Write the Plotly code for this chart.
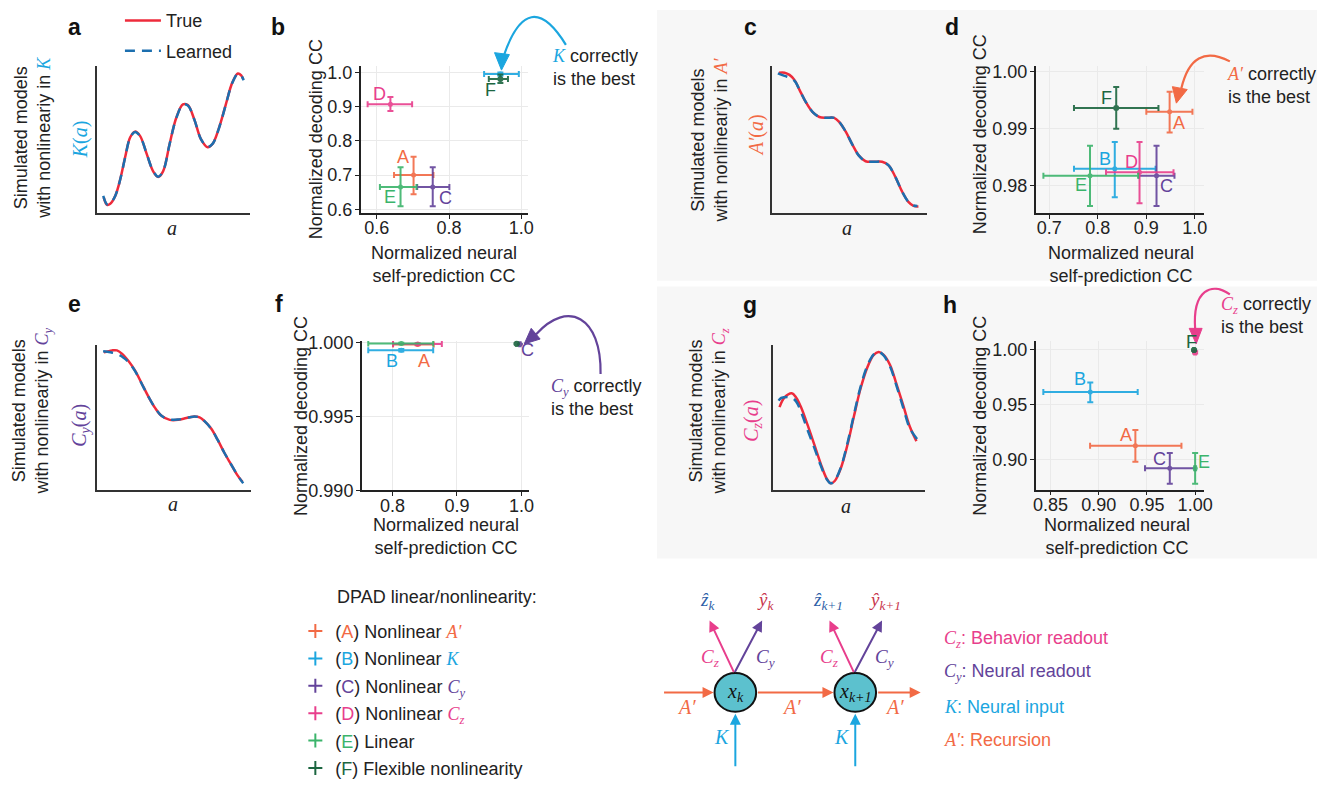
import plotly.graph_objects as go

W, H = 1334, 787
SANS = "Liberation Sans, Arial, Helvetica, sans-serif"
SERIF = "Liberation Serif, Times New Roman, serif"
INK = "#222222"

# ---------------- colours ----------------
COL = {"A": "#F26A45", "B": "#1BA6DF", "C": "#63439A",
       "D": "#E83E8C", "E": "#3BB46B", "F": "#1C6640"}
RED_TRUE = "#EE2B3B"
BLUE_LEARNED = "#1C6FAF"
letters = ["A", "B", "C", "D", "E", "F"]

# ---------------- curve panels (normalised a, f(a)) ----------------
a_true_x = [0.043, 0.065, 0.086, 0.119, 0.151, 0.184, 0.216, 0.248, 0.281, 0.324, 0.367, 0.400, 0.432, 0.475,
            0.518, 0.562, 0.594, 0.637, 0.680, 0.724, 0.756, 0.799, 0.842, 0.886, 0.922, 0.944, 0.957]
a_true_y = [0.106, 0.055, 0.062, 0.117, 0.227, 0.382, 0.514, 0.554, 0.525, 0.404, 0.283, 0.245, 0.283, 0.470,
            0.647, 0.740, 0.735, 0.636, 0.503, 0.448, 0.470, 0.581, 0.735, 0.890, 0.951, 0.938, 0.912]
a_learned_x = [0.040, 0.065, 0.086, 0.119, 0.151, 0.184, 0.216, 0.248, 0.281, 0.324, 0.367, 0.400, 0.432, 0.475,
               0.518, 0.562, 0.594, 0.637, 0.680, 0.724, 0.756, 0.799, 0.842, 0.886, 0.922, 0.944, 0.960]
a_learned_y = [0.115, 0.058, 0.064, 0.117, 0.227, 0.380, 0.512, 0.552, 0.524, 0.404, 0.285, 0.247, 0.284, 0.470,
               0.645, 0.738, 0.733, 0.636, 0.503, 0.450, 0.470, 0.580, 0.733, 0.888, 0.948, 0.936, 0.905]

c_true_x = [0.045, 0.081, 0.113, 0.145, 0.177, 0.220, 0.263, 0.306, 0.348, 0.402, 0.434, 0.476, 0.519, 0.562,
            0.605, 0.658, 0.712, 0.754, 0.797, 0.840, 0.882, 0.915, 0.947]
c_true_y = [0.956, 0.956, 0.941, 0.907, 0.841, 0.753, 0.687, 0.654, 0.648, 0.648, 0.621, 0.555, 0.467, 0.390,
            0.352, 0.348, 0.348, 0.324, 0.247, 0.148, 0.075, 0.048, 0.044]
c_learned_x = [0.038, 0.081, 0.124, 0.150, 0.177, 0.220, 0.263, 0.306, 0.348, 0.402, 0.434, 0.476, 0.519, 0.562,
               0.605, 0.658, 0.712, 0.754, 0.797, 0.840, 0.882, 0.915, 0.940]
c_learned_y = [0.952, 0.934, 0.918, 0.895, 0.841, 0.753, 0.687, 0.654, 0.648, 0.648, 0.621, 0.555, 0.467, 0.390,
               0.352, 0.348, 0.348, 0.324, 0.247, 0.148, 0.075, 0.050, 0.046]

e_true_x = [0.043, 0.097, 0.129, 0.161, 0.204, 0.247, 0.290, 0.333, 0.376, 0.419, 0.473, 0.527, 0.581, 0.624,
            0.667, 0.699, 0.742, 0.785, 0.828, 0.871, 0.914, 0.946]
e_true_y = [0.949, 0.962, 0.962, 0.940, 0.889, 0.823, 0.735, 0.646, 0.569, 0.513, 0.485, 0.485, 0.498, 0.507,
            0.502, 0.476, 0.425, 0.347, 0.259, 0.181, 0.104, 0.060]
e_learned_x = [0.039, 0.086, 0.129, 0.172, 0.204, 0.247, 0.290, 0.333, 0.376, 0.419, 0.473, 0.527, 0.581, 0.624,
               0.667, 0.699, 0.742, 0.785, 0.828, 0.871, 0.914, 0.951]
e_learned_y = [0.956, 0.949, 0.938, 0.912, 0.882, 0.820, 0.733, 0.646, 0.569, 0.513, 0.487, 0.487, 0.498, 0.507,
               0.502, 0.476, 0.425, 0.347, 0.259, 0.181, 0.104, 0.049]

g_true_x = [0.043, 0.076, 0.124, 0.152, 0.185, 0.228, 0.272, 0.315, 0.354, 0.380, 0.407, 0.446, 0.489, 0.533,
            0.576, 0.620, 0.663, 0.696, 0.728, 0.772, 0.815, 0.859, 0.902, 0.946]
g_true_y = [0.572, 0.639, 0.668, 0.639, 0.572, 0.450, 0.316, 0.183, 0.082, 0.049, 0.065, 0.149, 0.305, 0.506,
            0.695, 0.840, 0.929, 0.951, 0.933, 0.862, 0.728, 0.584, 0.439, 0.339]
g_learned_x = [0.037, 0.054, 0.120, 0.152, 0.185, 0.228, 0.272, 0.315, 0.354, 0.380, 0.407, 0.446, 0.489, 0.533,
               0.576, 0.620, 0.663, 0.696, 0.728, 0.772, 0.815, 0.859, 0.902, 0.950]
g_learned_y = [0.617, 0.635, 0.639, 0.612, 0.539, 0.416, 0.294, 0.171, 0.078, 0.049, 0.069, 0.154, 0.316, 0.517,
               0.706, 0.851, 0.933, 0.951, 0.929, 0.851, 0.717, 0.568, 0.428, 0.354]

# ---------------- scatter panels, order A..F ----------------
b_x = [0.702, 0.942, 0.755, 0.638, 0.666, 0.942]
b_y = [0.700, 0.996, 0.665, 0.908, 0.665, 0.982]
b_xlo = [0.648, 0.897, 0.712, 0.575, 0.609, 0.910]
b_xhi = [0.757, 0.993, 0.801, 0.698, 0.710, 0.963]
b_ylo = [0.644, 0.991, 0.609, 0.888, 0.609, 0.970]
b_yhi = [0.754, 1.001, 0.723, 0.929, 0.723, 0.995]

d_x = [0.948, 0.835, 0.921, 0.886, 0.784, 0.838]
d_y = [0.99297, 0.98291, 0.98171, 0.98230, 0.98171, 0.99365]
d_xlo = [0.900, 0.751, 0.885, 0.817, 0.688, 0.751]
d_xhi = [0.995, 0.919, 0.958, 0.956, 0.883, 0.925]
d_ylo = [0.98931, 0.97789, 0.97635, 0.97686, 0.97635, 0.99000]
d_yhi = [0.99651, 0.98766, 0.98700, 0.98766, 0.98700, 0.99732]

f_x = [0.839, 0.8138, 0.9975, 0.8392, 0.8138, 0.9925]
f_y = [0.99988, 0.99949, 0.99990, 0.99992, 0.99995, 0.99993]
f_xlo = [0.801, 0.7626, 0.9965, 0.801, 0.7626, 0.9915]
f_xhi = [0.864, 0.8632, 0.9985, 0.8766, 0.8632, 0.9935]
f_ylo = [0.99983, 0.99940, 0.99988, 0.99987, 0.99990, 0.99990]
f_yhi = [0.99993, 0.99958, 0.99992, 0.99997, 1.00000, 0.99996]

h_x = [0.938, 0.8912, 0.9737, 1.000, 1.000, 0.9989]
h_y = [0.9125, 0.9615, 0.8920, 0.9976, 0.8920, 0.9997]
h_xlo = [0.891, 0.8425, 0.948, 0.999, 0.999, 0.998]
h_xhi = [0.9858, 0.9404, 1.000, 1.001, 1.001, 0.9995]
h_ylo = [0.898, 0.9522, 0.878, 0.9966, 0.878, 0.9992]
h_yhi = [0.927, 0.9701, 0.906, 0.9986, 0.906, 1.0002]

# ---------------- ticks ----------------
b_xticks = [0.6, 0.8, 1.0]; b_xtext = ["0.6", "0.8", "1.0"]
b_yticks = [0.6, 0.7, 0.8, 0.9, 1.0]; b_ytext = ["0.6", "0.7", "0.8", "0.9", "1.0"]
d_xticks = [0.7, 0.8, 0.9, 1.0]; d_xtext = ["0.7", "0.8", "0.9", "1.0"]
d_yticks = [0.98, 0.99, 1.00]; d_ytext = ["0.98", "0.99", "1.00"]
f_xticks = [0.8, 0.9, 1.0]; f_xtext = ["0.8", "0.9", "1.0"]
f_yticks = [0.990, 0.995, 1.000]; f_ytext = ["0.990", "0.995", "1.000"]
h_xticks = [0.85, 0.90, 0.95, 1.00]; h_xtext = ["0.85", "0.90", "0.95", "1.00"]
h_yticks = [0.90, 0.95, 1.00]; h_ytext = ["0.90", "0.95", "1.00"]

# ---------------- layout helpers (pixel -> paper) ----------------
def X(x):
    return x / W


def Y(y):
    return 1 - y / H


def colt(t, c, s=18):
    return f"<span style='color:{c};font-size:{s}px'>{t}</span>"


def sym(t, c, s=18):
    return f"<span style='font-family:{SERIF};color:{c};font-size:{s}px'><i>{t}</i></span>"


def Cs(sub, c, s=18):
    return f"<span style='font-family:{SERIF};color:{c};font-size:{s}px'><i>C</i><sub><i>{sub}</i></sub></span>"


fig = go.Figure()
layout_axes = {}

curve_panels = [
    (1, 95, 249, 60, 211, a_true_x, a_true_y, a_learned_x, a_learned_y),
    (3, 776, 932, 60, 211, c_true_x, c_true_y, c_learned_x, c_learned_y),
    (5, 95, 250, 347, 497, e_true_x, e_true_y, e_learned_x, e_learned_y),
    (7, 777, 930, 347, 497, g_true_x, g_true_y, g_learned_x, g_learned_y),
]
for n, l, r, t, b, tx, ty, lx, ly in curve_panels:
    layout_axes[f"xaxis{n}"] = dict(domain=[X(l), X(r)], range=[0, 1], anchor=f"y{n}", showline=True,
                                    linecolor="#333333", linewidth=2, showticklabels=False, ticks="",
                                    showgrid=False, zeroline=False, fixedrange=True)
    layout_axes[f"yaxis{n}"] = dict(domain=[Y(b), Y(t)], range=[0, 1], anchor=f"x{n}", showline=True,
                                    linecolor="#333333", linewidth=2, showticklabels=False, ticks="",
                                    showgrid=False, zeroline=False, fixedrange=True)
    fig.add_trace(go.Scatter(x=tx, y=ty, mode="lines", line=dict(color=RED_TRUE, width=2.5, shape="spline"),
                             xaxis=f"x{n}", yaxis=f"y{n}", name="True", legend="legend", legendgroup="true",
                             showlegend=(n == 1), hoverinfo="skip"))
    fig.add_trace(go.Scatter(x=lx, y=ly, mode="lines",
                             line=dict(color=BLUE_LEARNED, width=2.5, shape="spline", dash="10px,7px"),
                             xaxis=f"x{n}", yaxis=f"y{n}", name="Learned", legend="legend",
                             legendgroup="learned", showlegend=(n == 1), hoverinfo="skip"))

scatter_panels = [
    (2, 361, 530, 60, 211, [0.556, 1.019], [0.5895, 1.019], b_x, b_y, b_xlo, b_xhi, b_ylo, b_yhi,
     b_xticks, b_xtext, b_yticks, b_ytext),
    (4, 1042, 1212, 60, 211, [0.672, 1.019], [0.97515, 1.001], d_x, d_y, d_xlo, d_xhi, d_ylo, d_yhi,
     d_xticks, d_xtext, d_yticks, d_ytext),
    (6, 362, 531, 343, 497, [0.7525, 1.012], [0.98999, 1.00012], f_x, f_y, f_xlo, f_xhi, f_ylo, f_yhi,
     f_xticks, f_xtext, f_yticks, f_ytext),
    (8, 1042, 1212, 343, 496, [0.8345, 1.0093], [0.8727, 1.008], h_x, h_y, h_xlo, h_xhi, h_ylo, h_yhi,
     h_xticks, h_xtext, h_yticks, h_ytext),
]
for (n, l, r, t, b, xr, yr, xs, ys, xlo, xhi, ylo, yhi, xtv, xtt, ytv, ytt) in scatter_panels:
    common = dict(showline=True, linecolor=INK, linewidth=1.5, ticks="outside", ticklen=4, tickwidth=1,
                  tickcolor=INK, showgrid=True, gridcolor="#EAEAEA", gridwidth=1, zeroline=False,
                  tickfont=dict(family=SANS, size=18, color=INK), fixedrange=True)
    layout_axes[f"xaxis{n}"] = dict(domain=[X(l), X(r)], range=xr, anchor=f"y{n}", tickvals=xtv,
                                    ticktext=xtt, ticklabelstandoff=-6, **common)
    layout_axes[f"yaxis{n}"] = dict(domain=[Y(b), Y(t)], range=yr, anchor=f"x{n}", tickvals=ytv,
                                    ticktext=ytt, ticklabelstandoff=-1, **common)
    for i, L in enumerate(letters):
        c = COL[L]
        fig.add_trace(go.Scatter(
            x=[xs[i]], y=[ys[i]], mode="markers",
            marker=dict(color=c, size=5 if L != "F" else 6),
            error_x=dict(type="data", symmetric=False, array=[xhi[i] - xs[i]], arrayminus=[xs[i] - xlo[i]],
                         color=c, thickness=2, width=3),
            error_y=dict(type="data", symmetric=False, array=[yhi[i] - ys[i]], arrayminus=[ys[i] - ylo[i]],
                         color=c, thickness=2, width=3),
            opacity=0.9, xaxis=f"x{n}", yaxis=f"y{n}", showlegend=False, cliponaxis=False,
            name=L, hoverinfo="x+y+name"))

# ---------------- legend for methods (legend2) ----------------
method_names = [
    f"({colt('A', COL['A'])}) Nonlinear {sym('A′', COL['A'])}",
    f"({colt('B', COL['B'])}) Nonlinear {sym('K', COL['B'])}",
    f"({colt('C', COL['C'])}) Nonlinear {Cs('y', COL['C'])}",
    f"({colt('D', COL['D'])}) Nonlinear {Cs('z', COL['D'])}",
    f"({colt('E', COL['E'])}) Linear",
    f"({colt('F', COL['F'])}) Flexible nonlinearity",
]
for i, L in enumerate(letters):
    fig.add_trace(go.Scatter(x=[None], y=[None], mode="markers", name=method_names[i], legend="legend2",
                             marker=dict(symbol="cross-thin", size=10, color=COL[L],
                                         line=dict(width=2, color=COL[L])),
                             showlegend=True, legendgroup=L))

# ---------------- annotations ----------------
ann = []


def txt(x, y, text, size=18, color=INK, xa="center", ya="middle", angle=0, family=SANS, align="center",
        xref="paper", yref="paper"):
    ann.append(dict(x=X(x) if xref == "paper" else x, y=Y(y) if yref == "paper" else y, text=text,
                    showarrow=False, xref=xref, yref=yref, xanchor=xa, yanchor=ya, textangle=angle,
                    align=align, font=dict(size=size, color=color, family=family)))


for L, x, y in [("a", 72, 20), ("b", 278, 20), ("c", 754, 20), ("d", 958, 20),
                ("e", 72, 305), ("f", 279, 305), ("g", 754, 306), ("h", 956, 306)]:
    txt(x, y, f"<b>{L}</b>", size=23, color="#111111")

txt(29, 134, f"Simulated models<br>with nonlineariy in {sym('K', COL['B'])}", angle=-90)
txt(712, 136, f"Simulated models<br>with nonlineariy in {sym('A′', COL['A'])}", angle=-90)
txt(29, 415, f"Simulated models<br>with nonlineariy in {Cs('y', COL['C'])}", angle=-90)
txt(712, 416, f"Simulated models<br>with nonlineariy in {Cs('z', COL['D'])}", angle=-90)

txt(78, 135, "<i>K</i>(<i>a</i>)", family=SERIF, size=20, angle=-90, color=COL["B"])
txt(760, 131, "<i>A′</i>(<i>a</i>)", family=SERIF, size=20, angle=-90, color=COL["A"])
txt(78, 430, "<i>C</i><sub><i>y</i></sub>(<i>a</i>)", family=SERIF, size=20, angle=-90, color=COL["C"])
txt(756, 425, "<i>C</i><sub><i>z</i></sub>(<i>a</i>)", family=SERIF, size=20, angle=-90, color=COL["D"])
for x, y in [(171, 227), (852, 227), (172, 511), (851, 513)]:
    txt(x, y, "<i>a</i>", family=SERIF, size=20)

for yx, yy, xx, xy in [(316, 135, 445, 264), (986, 130, 1128, 264), (300, 420, 447, 544), (986, 420, 1124, 544)]:
    txt(yx, yy, "Normalized decoding CC", angle=-90)
    txt(xx, xy, "Normalized neural<br>self-prediction CC")

b_lab = [(0.673, 0.752), (0.922, 1.027), (0.789, 0.632), (0.609, 0.938), (0.638, 0.637), (0.915, 0.948)]
d_lab = [(0.968, 0.99098), (0.8145, 0.98457), (0.942, 0.97989), (0.870, 0.98412), (0.7646, 0.9800), (0.819, 0.99543)]
f_lab = [(0.849, 0.99873), (0.800, 0.99873), (1.010, 0.99952), (0.851, 1.00073), (0.805, 1.00073), (0.985, 1.00073)]
h_lab = [(0.928, 0.922), (0.881, 0.973), (0.963, 0.9005), (1.012, 0.994), (1.009, 0.898), (0.9965, 1.0072)]
for n, labs in [(2, b_lab), (4, d_lab), (6, f_lab), (8, h_lab)]:
    for i, L in enumerate(letters):
        txt(labs[i][0], labs[i][1], L, color=COL[L], xref=f"x{n}", yref=f"y{n}")

txt(552, 61, f"{sym('K', COL['B'])} correctly<br>is the best", xa="left", align="left")
txt(1233, 80, f"{sym('A′', COL['A'])} correctly<br>is the best", xa="left", align="left")
txt(551, 401, f"{Cs('y', COL['C'])} correctly<br>is the best", xa="left", align="left")
txt(1227, 317, f"{Cs('z', COL['D'])} correctly<br>is the best", xa="left", align="left")

txt(335, 607, "DPAD linear/nonlinearity:", xa="left")

# ---------------- model diagram ----------------
nodes = [(739, 705, "k"), (860, 705, "k+1")]
shapes = []


def P(x, y):
    return f"{X(x):.5f},{Y(y):.5f}"


shapes.append(dict(type="rect", xref="paper", yref="paper", x0=X(660), x1=X(1326), y0=Y(281), y1=Y(2),
                   fillcolor="#F7F7F7", line=dict(width=0), layer="below"))
shapes.append(dict(type="rect", xref="paper", yref="paper", x0=X(660), x1=X(1326), y0=Y(567), y1=Y(287),
                   fillcolor="#F7F7F7", line=dict(width=0), layer="below"))

for cx, cy, k in nodes:
    shapes.append(dict(type="circle", xref="paper", yref="paper", x0=X(cx - 21), x1=X(cx + 21),
                       y0=Y(cy + 20), y1=Y(cy - 20), fillcolor="#5CC1CE", line=dict(color="#111111", width=2)))
    txt(cx, cy, f"<i>x</i><sub><i>{k}</i></sub>", family=SERIF, size=20, color="#111111")


def arrow(x0, y0, x1, y1, c):
    ann.append(dict(x=X(x1), y=Y(y1), xref="paper", yref="paper", ax=x0 - x1, ay=y0 - y1, axref="pixel",
                    ayref="pixel", showarrow=True, arrowhead=2, arrowsize=1.1, arrowwidth=2, arrowcolor=c,
                    text="", standoff=0))


for x0, x1 in [(666, 717), (761, 838), (882, 926)]:
    arrow(x0, 705, x1, 705, COL["A"])
for cx, cy, k in nodes:
    arrow(cx, 781, cx, 727, COL["B"])
    arrow(cx - 1, 684, cx - 26, 631, COL["D"])
    arrow(cx - 1, 684, cx + 27, 631, COL["C"])
    txt(cx - 26, 670, "<i>C</i><sub><i>z</i></sub>", family=SERIF, size=19, color=COL["D"])
    txt(cx + 30, 670, "<i>C</i><sub><i>y</i></sub>", family=SERIF, size=19, color=COL["C"])
    txt(cx - 13, 751, "<i>K</i>", family=SERIF, size=20, color=COL["B"])
    txt(cx - 28, 611, f"<i>ẑ</i><sub><i>{k}</i></sub>", family=SERIF, size=19, color="#2E5FA8")
    txt(cx + 30, 611, f"<i>ŷ</i><sub><i>{k}</i></sub>", family=SERIF, size=19, color="#C8344C")
for x in [690, 796, 900]:
    txt(x, 720, "<i>A′</i>", family=SERIF, size=20, color=COL["A"])

txt(948, 651, f"{Cs('z', COL['D'])}: Behavior readout", xa="left", color=COL["D"])
txt(948, 685, f"{Cs('y', COL['C'])}: Neural readout", xa="left", color=COL["C"])
txt(948, 720, f"{sym('K', COL['B'])}: Neural input", xa="left", color=COL["B"])
txt(948, 754, f"{sym('A′', COL['A'])}: Recursion", xa="left", color=COL["A"])

curves = [
    (f"M {P(568, 38)} Q {P(530, -25)} {P(505, 50)}", [(503, 64), (496, 46), (511, 48)], COL["B"]),
    (f"M {P(1238, 55)} Q {P(1200, 35)} {P(1189, 83)}", [(1184, 98), (1180, 81), (1195, 84)], COL["A"]),
    (f"M {P(603, 377)} C {P(604, 318)} {P(570, 300)} {P(538, 336)}", [(526, 346), (533, 330), (542, 341)], COL["C"]),
    (f"M {P(1238, 295)} C {P(1220, 282)} {P(1200, 290)} {P(1203, 331)}", [(1204, 346), (1197, 330), (1210, 330)],
     COL["D"]),
]
for path, tri, c in curves:
    shapes.append(dict(type="path", xref="paper", yref="paper", path=path, line=dict(color=c, width=2.2)))
    tp = "M " + " L ".join(P(x, y) for x, y in tri) + " Z"
    shapes.append(dict(type="path", xref="paper", yref="paper", path=tp, fillcolor=c, line=dict(color=c, width=1)))

fig.update_layout(
    width=W, height=H, autosize=False,
    margin=dict(l=0, r=0, t=0, b=0),
    paper_bgcolor="white", plot_bgcolor="rgba(0,0,0,0)",
    font=dict(family=SANS, size=18, color=INK),
    showlegend=True,
    legend=dict(x=X(118), y=Y(-6), xanchor="left", yanchor="top", bgcolor="rgba(0,0,0,0)",
                font=dict(family=SANS, size=18, color=INK), tracegroupgap=4, traceorder="grouped",
                itemwidth=36),
    legend2=dict(x=X(295), y=Y(623), xanchor="left", yanchor="top", bgcolor="rgba(0,0,0,0)",
                 font=dict(family=SANS, size=18, color=INK), tracegroupgap=1, traceorder="grouped"),
    annotations=ann, shapes=shapes,
    **layout_axes,
)

fig.write_html("out.html", config={"displayModeBar": False},
               post_script="document.body.style.margin='0';document.body.style.overflow='hidden';")
